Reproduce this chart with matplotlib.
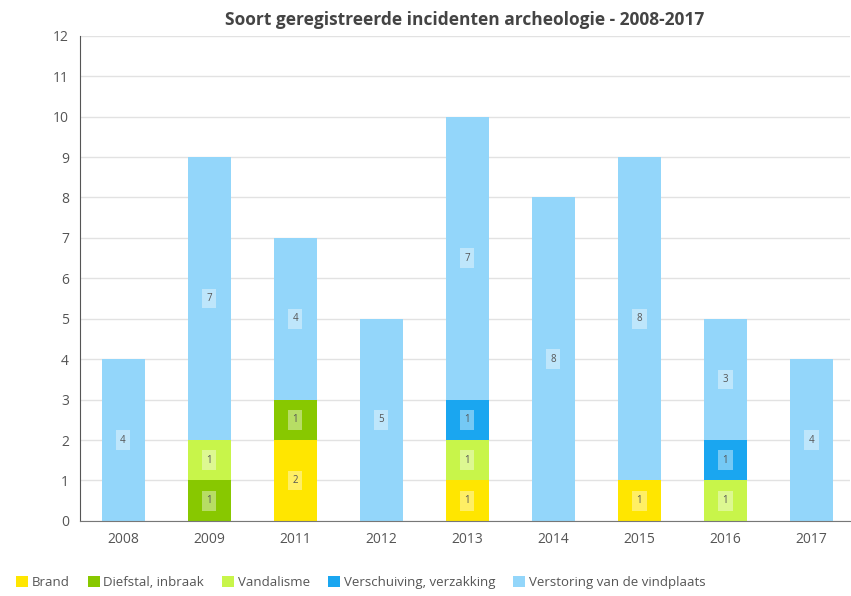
import matplotlib
matplotlib.use("Agg")
import matplotlib.pyplot as plt
import numpy as np

plt.rcParams['font.family'] = ['Open Sans', 'DejaVu Sans']

years = ["2008", "2009", "2011", "2012", "2013", "2014", "2015", "2016", "2017"]
series_names = ["Brand", "Diefstal, inbraak", "Vandalisme", "Verschuiving, verzakking", "Verstoring van de vindplaats"]
brand        = [0, 0, 2, 0, 1, 0, 1, 0, 0]
diefstal     = [0, 1, 1, 0, 0, 0, 0, 0, 0]
vandalisme   = [0, 1, 0, 0, 1, 0, 0, 1, 0]
verschuiving = [0, 0, 0, 0, 1, 0, 0, 1, 0]
verstoring   = [4, 7, 4, 5, 7, 8, 8, 3, 4]
colors = ["#FFE600", "#88C800", "#C8F54A", "#1AA6F0", "#93D6FA"]

data = [brand, diefstal, vandalisme, verschuiving, verstoring]

fig = plt.figure(figsize=(8.51, 5.96), dpi=100)
ax = fig.add_axes([0.094, 0.126, 0.905, 0.814])

x = np.arange(len(years))
bottom = np.zeros(len(years))
for name, vals, c in zip(series_names, data, colors):
    vals = np.array(vals, dtype=float)
    ax.bar(x, vals, 0.5, bottom=bottom, color=c, label=name, zorder=2)
    for xi, v, b in zip(x, vals, bottom):
        if v > 0:
            ax.text(xi, b + v / 2, str(int(v)), ha='center', va='center', fontsize=7,
                    color='#555555', zorder=3,
                    bbox=dict(boxstyle='square,pad=0.45', fc='white', ec='none', alpha=0.4))
    bottom += vals

ax.set_xlim(-0.5, 8.45)
ax.set_ylim(0, 12)
ax.set_yticks(range(0, 13))
ax.set_xticks(x)
ax.set_xticklabels(years)
ax.tick_params(axis='both', length=0, labelsize=10, colors='#555555')
ax.tick_params(axis='x', pad=8)
ax.tick_params(axis='y', pad=8)
ax.grid(axis='y', color='#e2e2e2', linewidth=1, zorder=0)
for s in ['top', 'right']:
    ax.spines[s].set_visible(False)
ax.spines['left'].set_color('#555555')
ax.spines['bottom'].set_color('#777777')

ax.set_title("Soort geregistreerde incidenten archeologie - 2008-2017", fontsize=12.5,
             fontweight='bold', color='#444444', pad=8)

handles, labels = ax.get_legend_handles_labels()
fig.legend(handles, labels, loc='lower left', bbox_to_anchor=(0.005, -0.008), ncol=5, frameon=False,
           fontsize=9.5, handlelength=0.9, handleheight=0.9, handletextpad=0.3, columnspacing=1.35,
           labelcolor='#555555')

fig.savefig("out.png", dpi=100, facecolor='white')
